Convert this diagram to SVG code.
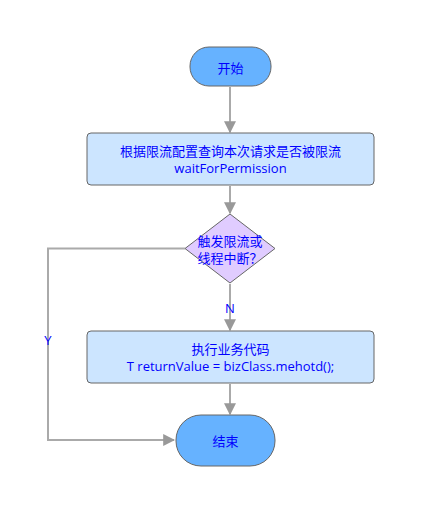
<svg xmlns="http://www.w3.org/2000/svg" width="435" height="528" viewBox="0 0 435 528">
<defs>
<style>
.t{font-family:"Open Sans","Noto Sans CJK SC",sans-serif;font-size:13px;fill:#0000ff;text-anchor:middle;dominant-baseline:central}
.term{fill:#66b2ff;stroke:#666;stroke-width:1}
.proc{fill:#cce5ff;stroke:#666;stroke-width:1}
.dec{fill:#e0ccff;stroke:#666;stroke-width:1}
.e{fill:none;stroke:#aaa;stroke-width:2;marker-end:url(#ah)}
</style>
<marker id="ah" viewBox="0 0 10 10" refX="9" refY="5" markerWidth="6" markerHeight="6" markerUnits="strokeWidth" orient="auto">
<path d="M0,0 L10,5 L0,10 z" fill="#999"/>
</marker>
</defs>
<rect width="435" height="528" fill="#ffffff"/>
<g id="edges">
<path class="e" d="M230,87 V132"/>
<path class="e" d="M230,186 V213"/>
<path class="e" d="M230,284 V330"/>
<path class="e" d="M230,384 V414"/>
<path class="e" d="M185,248.5 H48 V440 H174"/>
<text class="t" x="230" y="308">N</text>
<text class="t" x="48" y="340">Y</text>
</g>
<g id="start">
<rect class="term" x="190" y="47" width="81" height="39" rx="19" ry="19"/>
<text class="t" x="230.5" y="68">开始</text>
</g>
<g id="check">
<rect class="proc" x="87" y="133" width="287" height="52" rx="4" ry="4"/>
<text class="t" x="230.5" y="151">根据限流配置查询本次请求是否被限流</text>
<text class="t" x="230.5" y="168">waitForPermission</text>
</g>
<g id="decision">
<polygon class="dec" points="230,214 275,248.5 230,283 185,248.5"/>
<text class="t" x="230" y="241">触发限流或</text>
<text class="t" x="230" y="258">线程中断？</text>
</g>
<g id="exec">
<rect class="proc" x="87" y="331" width="287" height="52" rx="4" ry="4"/>
<text class="t" x="230.5" y="349">执行业务代码</text>
<text class="t" x="230.5" y="366">T returnValue = bizClass.mehotd();</text>
</g>
<g id="end">
<rect class="term" x="176" y="415" width="99" height="51" rx="25" ry="25"/>
<text class="t" x="225.5" y="441">结束</text>
</g>
</svg>
